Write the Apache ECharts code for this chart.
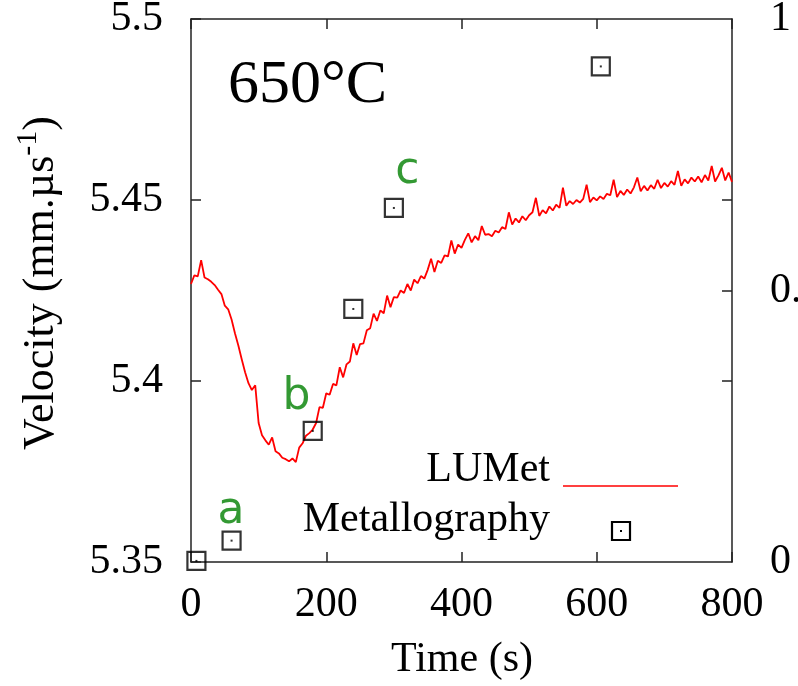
<!DOCTYPE html>
<html>
<head>
<meta charset="utf-8">
<script src="https://cdn.jsdelivr.net/npm/echarts@6/dist/echarts.min.js"></script>
<style>html,body{margin:0;padding:0;background:#fff;}#c{width:798px;height:686px;}</style>
</head>
<body>
<div id="c"></div>
<script>
// LUMet velocity trace (time in s, velocity in mm/us)
const lumetTime = [
  0,5,10,15,20,25,30,35,40,45,
  50,55,60,65,70,75,80,85,90,95,
  100,105,110,115,120,125,130,135,140,145,
  150,155,160,165,170,175,180,185,190,195,
  200,205,210,215,220,225,230,235,240,245,
  250,255,260,265,270,275,280,285,290,295,
  300,305,310,315,320,325,330,335,340,345,
  350,355,360,365,370,375,380,385,390,395,
  400,405,410,415,420,425,430,435,440,445,
  450,455,460,465,470,475,480,485,490,495,
  500,505,510,515,520,525,530,535,540,545,
  550,555,560,565,570,575,580,585,590,595,
  600,605,610,615,620,625,630,635,640,645,
  650,655,660,665,670,675,680,685,690,695,
  700,705,710,715,720,725,730,735,740,745,
  750,755,760,765,770,775,780,785,790,795,
  800
];
const lumetVel = [
  5.4268,5.4292,5.4289,5.4334,5.4286,5.4281,5.4274,5.4265,5.4252,5.4240,
  5.4208,5.4198,5.4170,5.4132,5.4098,5.4060,5.4024,5.3994,5.3975,5.3988,
  5.3884,5.3850,5.3836,5.3824,5.3844,5.3806,5.3800,5.3788,5.3784,5.3778,
  5.3786,5.3776,5.3816,5.3828,5.3849,5.3856,5.3866,5.3884,5.3928,5.3926,
  5.3966,5.3962,5.3992,5.3988,5.4038,5.4010,5.4046,5.4054,5.4104,5.4072,
  5.4102,5.4104,5.4140,5.4146,5.4186,5.4166,5.4195,5.4187,5.4236,5.4204,
  5.4232,5.4230,5.4250,5.4243,5.4268,5.4250,5.4280,5.4270,5.4290,5.4283,
  5.4307,5.4338,5.4301,5.4332,5.4326,5.4347,5.4344,5.4388,5.4352,5.4377,
  5.4368,5.4390,5.4408,5.4383,5.4400,5.4389,5.4428,5.4404,5.4406,5.4400,
  5.4415,5.4410,5.4425,5.4420,5.4466,5.4432,5.4449,5.4438,5.4455,5.4444,
  5.4458,5.4466,5.4506,5.4456,5.4472,5.4463,5.4482,5.4471,5.4487,5.4478,
  5.4534,5.4484,5.4497,5.4489,5.4500,5.4493,5.4503,5.4542,5.4494,5.4507,
  5.4499,5.4510,5.4503,5.4517,5.4513,5.4556,5.4508,5.4525,5.4514,5.4529,
  5.4518,5.4535,5.4562,5.4524,5.4539,5.4526,5.4541,5.4531,5.4556,5.4533,
  5.4547,5.4537,5.4552,5.4542,5.4580,5.4539,5.4557,5.4546,5.4562,5.4551,
  5.4565,5.4549,5.4569,5.4554,5.4594,5.4551,5.4568,5.4589,5.4554,5.4576,
  5.4550
];
// Metallography points
const metTime = [8, 60, 180, 240, 300, 606];
const metVel = [5.3503, 5.3559, 5.3862, 5.4199, 5.4478, 5.4869];
// Green annotation letters
const tagNames = ['a', 'b', 'c'];
const tagTime = [59, 156, 320];
const tagVel = [5.3638, 5.3953, 5.4578];
// Axis ticks
const xTickValues = [0, 200, 400, 600, 800];
const yTickValues = [5.35, 5.4, 5.45, 5.5];
const y2LabelValues = [0, 0.5, 1];
const y2TickValues = [1/3, 0.5, 2/3];

const SERIF = '"Liberation Serif", "Times New Roman", serif';
const SANS = '"DejaVu Sans", sans-serif';
const AX = '#222';

const chart = echarts.init(document.getElementById('c'), null, {renderer: 'canvas'});

const lumetData = lumetTime.map((t, i) => [t, lumetVel[i]]);
const metData = metTime.map((t, i) => [t, metVel[i]]);
const tagData = tagNames.map((n, i) => ({name: n, value: [tagTime[i], tagVel[i]]}));

const option = {
  animation: false,
  backgroundColor: '#fff',
  grid: {left: 191, right: 66, top: 19, bottom: 124, containLabel: false, outerBoundsMode: 'none'},
  xAxis: [{
    type: 'value', position: 'bottom', min: 0, max: 800, interval: 200,
    axisLine: {show: true, onZero: false, lineStyle: {color: AX, width: 1.5}},
    axisTick: {show: true, inside: true, length: 10, lineStyle: {color: AX, width: 1.5}},
    axisLabel: {show: true, margin: 22, color: '#000', fontFamily: SERIF, fontSize: 42,
      customValues: xTickValues},
    splitLine: {show: false}
  }, {
    type: 'value', position: 'top', min: 0, max: 800, interval: 200,
    axisLine: {show: true, onZero: false, lineStyle: {color: AX, width: 1.5}},
    axisTick: {show: true, inside: true, length: 10, lineStyle: {color: AX, width: 1.5}},
    axisLabel: {show: false},
    splitLine: {show: false}
  }],
  yAxis: [{
    type: 'value', position: 'left', min: 5.35, max: 5.5, interval: 0.05,
    axisLine: {show: true, onZero: false, lineStyle: {color: AX, width: 1.5}},
    axisTick: {show: true, inside: true, length: 10, lineStyle: {color: AX, width: 1.5}},
    axisLabel: {show: true, margin: 28, color: '#000', fontFamily: SERIF, fontSize: 42,
      customValues: yTickValues,
      formatter: v => String(Math.round(v * 100) / 100)},
    splitLine: {show: false}
  }, {
    type: 'value', position: 'right', min: 0, max: 1,
    axisLine: {show: true, onZero: false, lineStyle: {color: AX, width: 1.5}},
    axisTick: {show: true, inside: true, length: 10, lineStyle: {color: AX, width: 1.5},
      customValues: y2TickValues},
    axisLabel: {show: true, margin: 38, color: '#000', fontFamily: SERIF, fontSize: 42,
      customValues: y2LabelValues, hideOverlap: false,
      formatter: v => String(v)},
    splitLine: {show: false}
  }],
  series: [{
    name: 'LUMet', type: 'line', xAxisIndex: 0, yAxisIndex: 0,
    data: lumetData, showSymbol: false, symbol: 'none',
    lineStyle: {color: '#ff0000', width: 1.8}, z: 3
  }, {
    name: 'Metallography', type: 'scatter', xAxisIndex: 0, yAxisIndex: 0,
    data: metData, symbol: 'rect', symbolSize: 18, clip: false,
    itemStyle: {color: 'rgba(0,0,0,0)', borderColor: '#000', borderWidth: 2.2}, z: 4
  }, {
    name: 'dots', type: 'scatter', xAxisIndex: 0, yAxisIndex: 0,
    data: metData, symbol: 'rect', symbolSize: 2, clip: false,
    itemStyle: {color: '#000'}, z: 5
  }, {
    name: 'tags', type: 'scatter', xAxisIndex: 0, yAxisIndex: 0,
    data: tagData, symbolSize: 0, clip: false,
    label: {show: true, position: 'inside', formatter: p => p.name,
      color: '#008000', fontFamily: SANS, fontSize: 44},
    z: 6
  }],
  graphic: [{
    type: 'text', left: 228, top: 55,
    style: {text: '650°C', fontFamily: SERIF, fontSize: 62, fill: '#000'}
  }, {
    type: 'text', x: 38, y: 283, rotation: Math.PI / 2,
    style: {
      text: '{n|Velocity (mm.µs}{s|-1}{n|)}',
      align: 'center', verticalAlign: 'middle',
      rich: {
        n: {fontFamily: SERIF, fontSize: 44, fill: '#000', lineHeight: 50, verticalAlign: 'bottom'},
        s: {fontFamily: SERIF, fontSize: 30, fill: '#000', lineHeight: 50, verticalAlign: 'top'}
      }
    }
  }, {
    type: 'text', x: 462, y: 660,
    style: {text: 'Time (s)', fontFamily: SERIF, fontSize: 42, fill: '#000', align: 'center', verticalAlign: 'middle'}
  }, {
    type: 'text', x: 550, y: 470,
    style: {text: 'LUMet', fontFamily: SERIF, fontSize: 42, fill: '#000', align: 'right', verticalAlign: 'middle'}
  }, {
    type: 'line', shape: {x1: 563, y1: 486, x2: 678, y2: 486},
    style: {stroke: '#ff0000', lineWidth: 1.6}
  }, {
    type: 'text', x: 550, y: 520,
    style: {text: 'Metallography', fontFamily: SERIF, fontSize: 42, fill: '#000', align: 'right', verticalAlign: 'middle'}
  }, {
    type: 'rect', shape: {x: 612, y: 522, width: 18, height: 18},
    style: {fill: 'rgba(0,0,0,0)', stroke: '#000', lineWidth: 2.2}
  }, {
    type: 'rect', shape: {x: 620, y: 530, width: 2, height: 2},
    style: {fill: '#000'}
  }]
};
chart.setOption(option);
</script>
</body>
</html>
